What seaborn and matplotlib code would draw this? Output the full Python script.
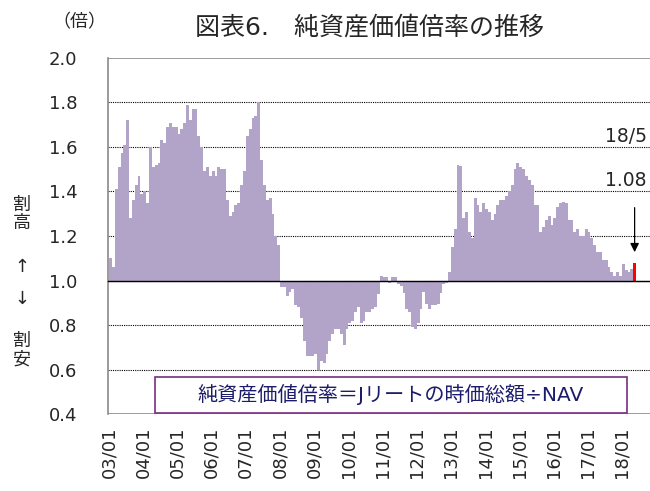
import numpy as np
import pandas as pd
import matplotlib
matplotlib.use('Agg')
import matplotlib.pyplot as plt
import seaborn as sns
from matplotlib.patches import Rectangle

# monthly NAV ratio (Jan 2003 - May 2018)
ratio_2003 = [1.10, 1.06, 1.41, 1.51, 1.575, 1.61, 1.72, 1.28, 1.36, 1.43, 1.47, 1.39]
ratio_2004 = [1.40, 1.35, 1.60, 1.51, 1.52, 1.53, 1.63, 1.62, 1.69, 1.71, 1.69, 1.69]
ratio_2005 = [1.66, 1.68, 1.71, 1.79, 1.72, 1.77, 1.77, 1.65, 1.60, 1.49, 1.51, 1.47]
ratio_2006 = [1.49, 1.47, 1.51, 1.50, 1.50, 1.36, 1.29, 1.31, 1.34, 1.35, 1.43, 1.49]
ratio_2007 = [1.65, 1.68, 1.73, 1.74, 1.80, 1.54, 1.43, 1.36, 1.37, 1.30, 1.20, 1.16]
ratio_2008 = [0.97, 0.97, 0.93, 0.95, 0.96, 0.89, 0.88, 0.83, 0.73, 0.66, 0.66, 0.66]
ratio_2009 = [0.67, 0.60, 0.64, 0.63, 0.67, 0.73, 0.76, 0.78, 0.78, 0.76, 0.71, 0.78]
ratio_2010 = [0.81, 0.82, 0.86, 0.88, 0.81, 0.82, 0.86, 0.86, 0.87, 0.88, 0.94, 1.02]
ratio_2011 = [1.015, 1.015, 0.99, 1.015, 1.015, 0.985, 0.975, 0.945, 0.87, 0.86, 0.79, 0.78]
ratio_2012 = [0.81, 0.87, 0.95, 0.895, 0.87, 0.89, 0.89, 0.895, 0.945, 0.985, 0.99, 1.04]
ratio_2013 = [1.15, 1.23, 1.52, 1.515, 1.28, 1.31, 1.22, 1.19, 1.37, 1.34, 1.31, 1.35]
ratio_2014 = [1.32, 1.31, 1.27, 1.30, 1.34, 1.36, 1.36, 1.38, 1.40, 1.43, 1.50, 1.53]
ratio_2015 = [1.51, 1.50, 1.47, 1.45, 1.43, 1.34, 1.34, 1.22, 1.24, 1.27, 1.29, 1.25]
ratio_2016 = [1.28, 1.33, 1.35, 1.355, 1.35, 1.27, 1.27, 1.22, 1.23, 1.20, 1.20, 1.23]
ratio_2017 = [1.22, 1.19, 1.16, 1.13, 1.13, 1.09, 1.09, 1.06, 1.04, 1.02, 1.04, 1.02]
ratio_2018 = [1.075, 1.045, 1.04, 1.05, 1.08]

year_labels = ['03/01', '04/01', '05/01', '06/01', '07/01', '08/01', '09/01', '10/01',
               '11/01', '12/01', '13/01', '14/01', '15/01', '16/01', '17/01', '18/01']
latest_label = '18/5'

ratio = np.array(ratio_2003 + ratio_2004 + ratio_2005 + ratio_2006 + ratio_2007 + ratio_2008
                 + ratio_2009 + ratio_2010 + ratio_2011 + ratio_2012 + ratio_2013 + ratio_2014
                 + ratio_2015 + ratio_2016 + ratio_2017 + ratio_2018)
n = len(ratio)
months = list(pd.date_range('2003-01-01', periods=n, freq='MS').strftime('%y/%m'))
df = pd.DataFrame({'month': months,
                   'diff': ratio - 1.0,
                   'kind': ['past'] * (n - 1) + ['latest']})

sns.set_style('white')
plt.rcParams['font.family'] = ['DejaVu Sans', 'Noto Sans CJK JP']

fig = plt.figure(figsize=(6.5, 4.91), dpi=100)
ax = fig.add_axes([0.1662, 0.1568, 0.8338, 0.7251])

# bars hang from the 1.0 line
sns.barplot(data=df, x='month', y='diff', hue='kind', order=months,
            palette={'past': '#b2a4c9', 'latest': '#ff0000'}, saturation=1,
            width=1.0, linewidth=0, errorbar=None, legend=False,
            bottom=1.0, ax=ax)

ax.set_xlim(-0.9, 189.4)
ax.set_ylim(0.4, 2.0)
yt = np.round(np.arange(0.4, 2.01, 0.2), 1)
ax.set_yticks(yt, [f'{v:.1f}' for v in yt])
ax.tick_params(axis='y', length=0, pad=22, labelsize=13)
ax.set_xlabel('')
ax.set_ylabel('')

ax.set_axisbelow(True)
ax.yaxis.grid(True, linestyle=(0, (1, 1)), color='black', linewidth=0.8)
for gl, v in zip(ax.get_ygridlines(), yt):
    if v in (0.4, 2.0):
        gl.set_color('#8a8a8a')
        gl.set_linestyle('-')
        gl.set_linewidth(1.2)

for s in ['top', 'right']:
    ax.spines[s].set_visible(False)
ax.spines['left'].set_color('#8a8a8a')
ax.spines['left'].set_linewidth(1.2)
ax.spines['bottom'].set_position(('data', 1.0))
ax.spines['bottom'].set_color('black')
ax.spines['bottom'].set_linewidth(1.0)

year_pos = [12 * k - 0.5 for k in range(len(year_labels))]
ax.set_xticks(year_pos)
ax.tick_params(axis='x', direction='in', length=4, width=1, color='#333333',
               labelbottom=False)

sec = ax.secondary_xaxis('bottom')
sec.set_xticks(year_pos, labels=year_labels)
sec.tick_params(length=0, pad=9, labelsize=13, labelrotation=90)
sec.spines['bottom'].set_visible(False)

# latest value annotation
latest = ratio[-1]
ax.annotate('', xy=(n - 1, latest + 0.035), xytext=(n - 1, latest + 0.26),
            arrowprops=dict(arrowstyle='-|>', color='black', lw=0.9, mutation_scale=13))
ax.text(188.2, 1.645, latest_label, ha='right', va='center', fontsize=13.5)
ax.text(188.2, 1.45, f'{latest:.2f}', ha='right', va='center', fontsize=13.5)

# formula box
ax.add_patch(Rectangle((0.0867, 0.004), 0.871, 0.1, transform=ax.transAxes,
                       facecolor='white', edgecolor='#7b2c83', linewidth=1.2, zorder=5))
ax.text(0.522, 0.054, '純資産価値倍率＝Jリートの時価総額÷NAV', transform=ax.transAxes,
        ha='center', va='center', fontsize=14.5, color='#1c1c6b', zorder=6)

fig.text(0.568, 0.945, '図表6.\u3000純資産価値倍率の推移', ha='center', va='center', fontsize=18)
fig.text(0.122, 0.955, '（倍）', ha='center', va='center', fontsize=13)

fig.text(0.034, 0.564, '割\n高', ha='center', va='center', fontsize=13, linespacing=1.05)
fig.text(0.034, 0.456, '↑', ha='center', va='center', fontsize=13)
fig.text(0.034, 0.391, '↓', ha='center', va='center', fontsize=13)
fig.text(0.034, 0.287, '割\n安', ha='center', va='center', fontsize=13, linespacing=1.05)

fig.savefig('out.png', dpi=100)
